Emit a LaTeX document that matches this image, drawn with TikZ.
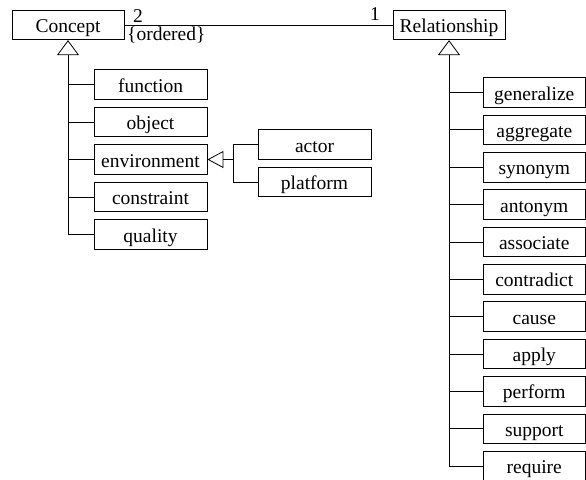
\documentclass[tikz,border=0pt]{standalone}
\usepackage{fontspec}
\setmainfont{Liberation Serif}
\usetikzlibrary{arrows.meta}
\begin{document}
\begin{tikzpicture}[x=1pt,y=-1pt,
  font=\fontsize{19.5}{23}\selectfont,
  cls/.style={draw,line width=0.8pt,inner sep=0pt,minimum height=29.5pt,
              text height=15pt,text depth=0pt},
  lbox/.style={cls,minimum width=113pt},
  rbox/.style={cls,minimum width=102.5pt},
  link/.style={line width=0.8pt},
  gen/.style={link,-{Triangle[open,length=15pt,width=22pt,line width=0.8pt]}},
  gensmall/.style={link,-{Triangle[open,length=16pt,width=17pt,line width=0.8pt]}},
  lab/.style={inner sep=0pt}]
\useasboundingbox (0,0) rectangle (586,479);

% top-level classes and their association
\node[cls,minimum width=112pt] (concept) at (68,25) {Concept};
\node[cls,minimum width=112pt] (rel) at (449,25) {Relationship};
\draw[link] (concept.east) -- (rel.west);
\node[lab,anchor=base west] (m2) at (133,22) {2};
\node[lab,anchor=base west] (ord) at (127,40) {\{ordered\}};
\node[lab,anchor=base east] (m1) at (380,20) {1};

% subclasses of Concept
\foreach \n/\t/\y in {cf/function/84.5, co/object/122, ce/environment/159.5,
                      cc/constraint/197, cq/quality/234.5}
  \node[lbox] (\n) at (150.5,\y) {\t};
\coordinate (ctop) at (68,55);
\coordinate (cbot) at (68,234.5);
\draw[link] (ctop) -- (cbot) -- (cq.west);
\draw[gen] (ctop) -- (concept.south);
\foreach \n in {cf,co,ce,cc}
  \draw[link] (\n.west) -- (\n.west -| ctop);

% subclasses of environment
\node[lbox] (actor) at (314.5,144.5) {actor};
\node[lbox] (plat) at (314.5,182) {platform};
\coordinate (ejoin) at (233,159.5);
\draw[link] (actor.west) -- (actor.west -| ejoin) -- (plat.west -| ejoin) -- (plat.west);
\draw[gensmall] (ejoin) -- (ce.east);

% subclasses of Relationship
\foreach \n/\t [count=\k from 0] in {rg/generalize, ra/aggregate, rs/synonym,
      ran/antonym, ras/associate, rc/contradict, rca/cause, rap/apply,
      rp/perform, rsu/support, rr/require}
  \node[rbox] (\n) at (534.25,92.5+37.35*\k) {\t};
\coordinate (rtop) at (449,55);
\draw[link] (rtop) -- (rtop |- rr.west) -- (rr.west);
\draw[gen] (rtop) -- (rel.south);
\foreach \n in {rg,ra,rs,ran,ras,rc,rca,rap,rp,rsu}
  \draw[link] (\n.west) -- (\n.west -| rtop);
\end{tikzpicture}
\end{document}
